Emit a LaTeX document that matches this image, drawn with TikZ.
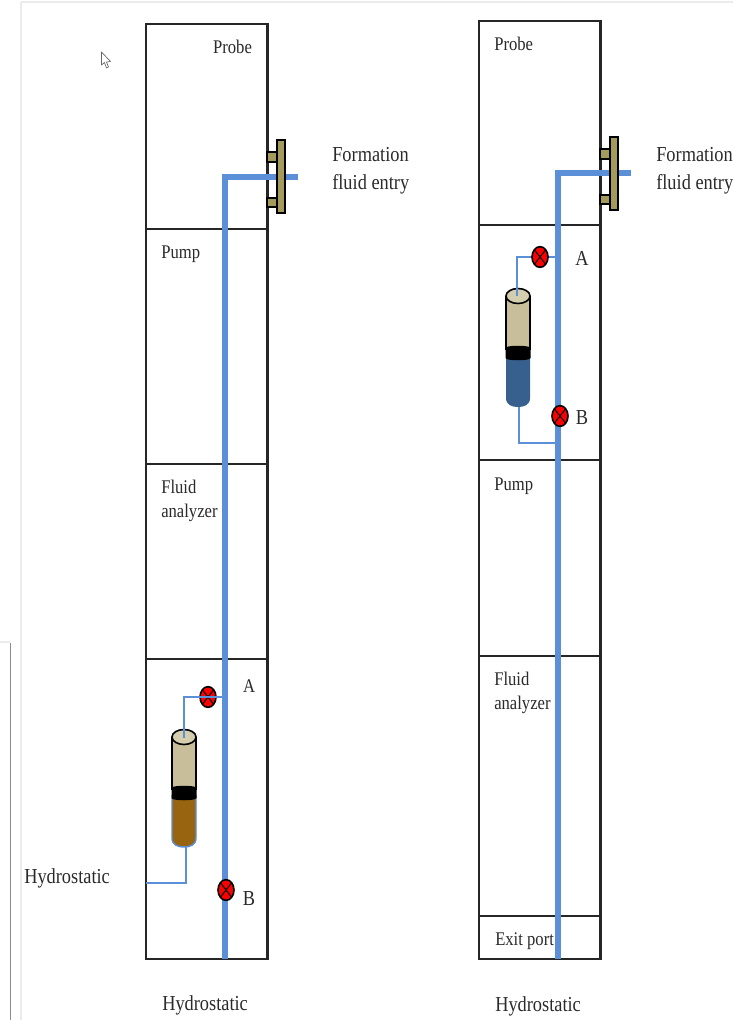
\documentclass[tikz,border=0pt]{standalone}
\usepackage{fontspec}
\setmainfont[FakeStretch=0.86]{Liberation Serif}
\usetikzlibrary{shapes.geometric}
\definecolor{pipeblue}{HTML}{5B90D8}
\definecolor{tan1}{HTML}{C8BF9A}
\definecolor{tan2}{HTML}{D4CDAE}
\definecolor{olive1}{HTML}{A39A5C}
\definecolor{brown1}{HTML}{99640F}
\definecolor{blue2}{HTML}{37608F}
\definecolor{frame1}{HTML}{262626}
\definecolor{txt}{HTML}{2A2A2A}
\tikzset{
  section/.style={draw=frame1,line width=1.8pt,minimum width=91pt,inner sep=0pt,outer sep=0pt,anchor=north west},
  lbl/.style={font=\fontsize{14.5}{18}\selectfont,text=txt,inner sep=0pt,anchor=west,align=left},
  lblbig/.style={font=\fontsize{16}{21}\selectfont,text=txt,inner sep=0pt,anchor=west,align=left},
  mainpipe/.style={draw=pipeblue,line width=4pt},
  thinpipe/.style={draw=pipeblue,line width=1.7pt},
  valve/.style={ellipse,draw=black,fill=red,line width=1.2pt,minimum width=12pt,minimum height=15.5pt,inner sep=0pt,
    path picture={\draw[black,line width=.8pt](path picture bounding box.south west)--(path picture bounding box.north east)
      (path picture bounding box.north west)--(path picture bounding box.south east);}},
  flange/.style={draw=black,fill=olive1,line width=1.4pt,inner sep=0pt},
  cylline/.style={draw=black,line width=1.2pt},
  faint/.style={draw=black!8,line width=.9pt},
}
\begin{document}
\begin{tikzpicture}[x=0.75pt,y=-0.75pt]
\useasboundingbox (0,0) rectangle (733,1020);
% page edges of the screenshot
\draw[faint] (21,2) -- (21,1020);
\draw[faint] (21,2) -- (733,2);
\draw[faint] (0,642) -- (10,642);
\draw[draw=black!45,line width=1.1pt] (10.5,643) -- (10.5,1020);
% pointer
\draw[draw=black!60,fill=white,line width=.5pt,line join=round] (101.5,52) -- (101.5,65) -- (104.5,62.5) -- (106.5,68) -- (108.5,67) -- (106.5,62) -- (110.5,61.5) -- cycle;

% left tool
\node[section,minimum height=153.75pt] (Lprobe) at (146,24) {};
\node[section,minimum height=176.25pt] (Lpump) at (146,229) {};
\node[section,minimum height=146.25pt] (Lfluid) at (146,464) {};
\node[section,minimum height=225pt] (Lsample) at (146,659) {};
\coordinate (Lbot) at (225,959);
\coordinate (Lbend) at (225,177);
\coordinate (Lentry) at (298,177);
\coordinate (LtapA) at (225,697);
\coordinate (LcornerA) at (184,697);
\coordinate (LcylTop) at (184,738);
\coordinate (LcylBot) at (186,847);
\coordinate (LcornerB) at (186,883);
\coordinate (Lout) at (146,883);
\draw[mainpipe] (Lbot) -- (Lbend) -- (Lentry);
\draw[flange] (267,152) rectangle (277,162);
\draw[flange] (267,198) rectangle (277,207);
\draw[flange] (277,140) rectangle (285,213);
% left bottle
\path[fill=brown1] (172,795) -- (196,795) -- (196,838) .. controls (196,845) and (190,847) .. (184,847) .. controls (178,847) and (172,845) .. (172,838) -- cycle;
\draw[draw=pipeblue,line width=1.1pt] (172,795) -- (172,838) .. controls (172,845) and (178,847) .. (184,847) .. controls (190,847) and (196,845) .. (196,838) -- (196,795);
\path[fill=tan1] (172,737) rectangle (196,790);
\draw[cylline] (172,737) -- (172,790) (196,737) -- (196,790);
\path[fill=black] (171.5,788) .. controls (171.5,785) and (196.5,785) .. (196.5,788) -- (196.5,798) .. controls (196.5,801) and (171.5,801) .. (171.5,798) -- cycle;
\draw[cylline,fill=tan2] (184,737) ellipse (12 and 7.5);
\draw[thinpipe] (LtapA) -- (LcornerA) -- (LcylTop);
\draw[thinpipe] (LcylBot) -- (LcornerB) -- (Lout);
\node[valve] (LvA) at (208,697) {};
\node[valve] (LvB) at (226,890) {};
\draw[thinpipe,line width=1pt] (LcornerA) -- (LtapA);
% left labels
\node[lbl,anchor=center] (Lt1) at (232.5,46.5) {Probe};
\node[lbl] (Lt2) at (161,254.5) {Pump};
\node[lbl] (Lt3) at (161,501) {Fluid\\analyzer};
\node[lbl,anchor=center] (Lt4) at (249,686.5) {A};
\node[lblbig,anchor=center] (Lt5) at (249,899) {B};
\node[lblbig] (Lt6) at (24,878) {Hydrostatic};
\node[lblbig] (Lt7) at (162,1005) {Hydrostatic};
\node[lblbig] (Lt8) at (332,171) {Formation\\fluid entry};

% right tool
\node[section,minimum height=153pt] (Rprobe) at (479,21) {};
\node[section,minimum height=176.25pt] (Rsample) at (479,225) {};
\node[section,minimum height=147pt] (Rpump) at (479,460) {};
\node[section,minimum height=195pt] (Rfluid) at (479,656) {};
\node[section,minimum height=32.25pt] (Rexit) at (479,916) {};
\coordinate (Rbot) at (558,959);
\coordinate (Rbend) at (558,173);
\coordinate (Rentry) at (631,173);
\coordinate (RtapA) at (558,257);
\coordinate (RcornerA) at (517,257);
\coordinate (RcylTop) at (517,296);
\coordinate (RcylBot) at (519,407);
\coordinate (RcornerB) at (519,443);
\coordinate (RtapB) at (558,443);
\draw[mainpipe] (Rbot) -- (Rbend) -- (Rentry);
\draw[flange] (600,149) rectangle (610,159);
\draw[flange] (600,195) rectangle (610,204);
\draw[flange] (610,137) rectangle (618,210);
% right bottle
\path[fill=blue2] (506,355) -- (530,355) -- (530,398) .. controls (530,405) and (524,407) .. (518,407) .. controls (512,407) and (506,405) .. (506,398) -- cycle;
\path[fill=tan1] (506,296) rectangle (530,350);
\draw[cylline] (506,296) -- (506,350) (530,296) -- (530,350);
\path[fill=black] (505.5,348) .. controls (505.5,345) and (530.5,345) .. (530.5,348) -- (530.5,358) .. controls (530.5,361) and (505.5,361) .. (505.5,358) -- cycle;
\draw[cylline,fill=tan2] (518,296) ellipse (12 and 7.5);
\draw[thinpipe] (RtapA) -- (RcornerA) -- (RcylTop);
\draw[thinpipe] (RcylBot) -- (RcornerB) -- (RtapB);
\node[valve] (RvA) at (540,257) {};
\node[valve] (RvB) at (560,416) {};
% right labels
\node[lbl] (Rt1) at (494,43.5) {Probe};
\node[lblbig,anchor=center] (Rt2) at (582,258) {A};
\node[lblbig,anchor=center] (Rt3) at (582,418) {B};
\node[lbl] (Rt4) at (494,486.5) {Pump};
\node[lbl] (Rt5) at (494,693) {Fluid\\analyzer};
\node[lbl] (Rt6) at (495,941) {Exit port};
\node[lblbig] (Rt7) at (495,1006) {Hydrostatic};
\node[lblbig] (Rt8) at (656,171) {Formation\\fluid entry};
\end{tikzpicture}
\end{document}
